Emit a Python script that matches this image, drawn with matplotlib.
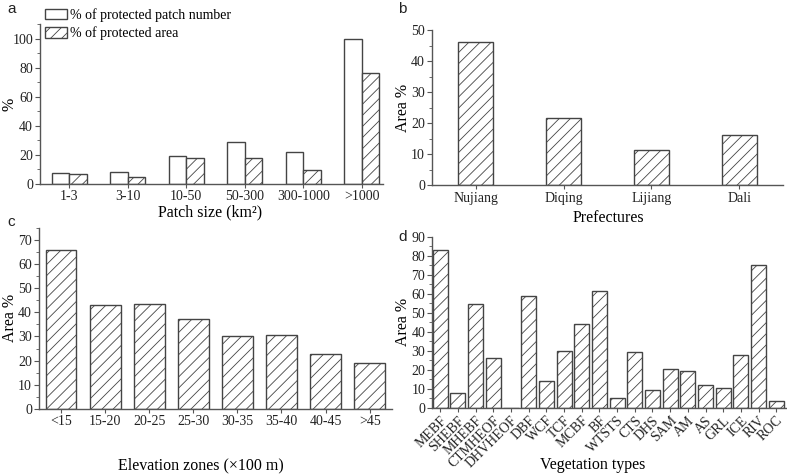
import matplotlib
matplotlib.use("Agg")
import matplotlib.pyplot as plt
import numpy as np
from matplotlib.patches import Patch
from matplotlib.ticker import MultipleLocator

# ---------------- data ----------------
patch_sizes = ["1-3", "3-10", "10-50", "50-300", "300-1000", ">1000"]
pct_patch_number = [7.8, 8.5, 19.5, 28.8, 22.0, 100.0]
pct_area = [6.7, 4.6, 17.7, 17.7, 9.9, 76.0]

prefectures = ["Nujiang", "Diqing", "Lijiang", "Dali"]
pref_area = [46.2, 21.8, 11.3, 16.1]

elev_zones = ["<15", "15-20", "20-25", "25-30", "30-35", "35-40", "40-45", ">45"]
elev_area = [65.7, 43.0, 43.4, 37.2, 30.3, 30.7, 22.9, 19.1]

veg_types = ["MEBF", "SHEBF", "MHEBF", "CTMHEOF", "DHVHEOF", "DBF", "WCF", "TCF",
             "MCBF", "BF", "WTSTS", "CTS", "DHS", "SAM", "AM", "AS", "GRL", "ICE",
             "RIV", "ROC"]
veg_area = [82.8, 7.5, 54.6, 26.0, 0.0, 58.6, 14.0, 29.6, 43.9, 61.2, 4.9, 29.1,
            9.1, 20.2, 19.1, 11.9, 10.2, 27.5, 74.9, 3.3]

# ---------------- style ----------------
W, H = 787, 476
plt.rcParams["font.family"] = ["Liberation Serif", "DejaVu Serif"]
plt.rcParams["hatch.linewidth"] = 0.6
plt.rcParams["hatch.color"] = "#222222"
EDGE = "#444444"
SPINE = "#555555"
TICKFS = 10
LABFS = 11.5

fig = plt.figure(figsize=(W / 100, H / 100), dpi=100)


def add_ax(left, top, right, bottom):
    return fig.add_axes([left / W, 1 - bottom / H, (right - left) / W, (bottom - top) / H])


def style(ax, major, minor):
    for s in ["top", "right"]:
        ax.spines[s].set_visible(False)
    for s in ["left", "bottom"]:
        ax.spines[s].set_color(SPINE)
        ax.spines[s].set_linewidth(1.0)
    ax.yaxis.set_major_locator(MultipleLocator(major))
    ax.yaxis.set_minor_locator(MultipleLocator(minor))
    ax.tick_params(axis="y", which="major", direction="out", length=3.5, width=0.8,
                   colors=SPINE, labelcolor="#222222", labelsize=TICKFS, pad=1.5)
    ax.tick_params(axis="y", which="minor", direction="out", length=2, width=0.6, colors=SPINE)
    ax.tick_params(axis="x", which="major", direction="out", length=3, width=0.8,
                   colors=SPINE, labelcolor="#222222", labelsize=TICKFS, pad=1.5)
    ax.tick_params(axis="x", which="minor", length=0)


def set_labels(ax, box, xlabel, xlab_xy, ylabel, ylab_x):
    """box = (left, top, right, bottom) in figure px; label positions in figure px."""
    left, top, right, bottom = box
    ax.set_xlabel(xlabel, fontsize=LABFS)
    ax.set_ylabel(ylabel, fontsize=LABFS)
    xl_x, xl_y = xlab_xy
    ax.xaxis.set_label_coords((xl_x - left) / (right - left), (bottom - xl_y) / (bottom - top))
    ax.xaxis.label.set_va("center")
    ax.yaxis.set_label_coords((ylab_x - left) / (right - left), 0.5)
    ax.yaxis.label.set_va("center")


def panel_label(x, y, s):
    fig.text(x / W, 1 - y / H, s, family="Liberation Sans", fontsize=11,
             ha="left", va="center", color="#222222")


# ---------------- panel a ----------------
boxa = (40, 24, 383, 184)
axa = add_ax(*boxa)
xa = np.arange(len(patch_sizes))
bw = 0.3
axa.bar(xa - bw / 2, pct_patch_number, bw, facecolor="white", edgecolor=EDGE, linewidth=1.0)
axa.bar(xa + bw / 2, pct_area, bw, facecolor="white", edgecolor=EDGE, linewidth=1.0, hatch="///")
axa.set_xlim(-0.5, 5.36)
axa.set_ylim(0, 110)
axa.set_xticks(xa)
axa.set_xticklabels(patch_sizes)
style(axa, 20, 10)
axa.set_yticks([0, 20, 40, 60, 80, 100])
set_labels(axa, boxa, "Patch size (km²)", (210.5, 212), "%", 10)
handles = [Patch(facecolor="white", edgecolor=EDGE, linewidth=1.0),
           Patch(facecolor="white", edgecolor=EDGE, linewidth=1.0, hatch="///")]
fig.legend(handles, ["% of protected patch number", "% of protected area"],
           loc="upper left", bbox_to_anchor=(45 / W, 1 - 8 / H), frameon=False,
           fontsize=10, handlelength=1.55, handleheight=0.75, handletextpad=0.25,
           borderpad=0, borderaxespad=0, labelspacing=0.35)
panel_label(7, 9, "a")

# ---------------- panel b ----------------
boxb = (432, 30, 783, 185.3)
axb = add_ax(*boxb)
xb = np.arange(len(prefectures))
axb.bar(xb, pref_area, 0.4, facecolor="white", edgecolor=EDGE, linewidth=1.0, hatch="///")
axb.set_xlim(-0.5, 3.5)
axb.set_ylim(0, 50)
axb.set_xticks(xb)
axb.set_xticklabels(prefectures)
style(axb, 10, 5)
set_labels(axb, boxb, "Prefectures", (608, 218), "Area %", 403)
panel_label(398, 9, "b")

# ---------------- panel c ----------------
boxc = (39, 227.7, 391.7, 409)
axc = add_ax(*boxc)
xc = np.arange(len(elev_zones))
axc.bar(xc, elev_area, 0.7, facecolor="white", edgecolor=EDGE, linewidth=1.0, hatch="///")
axc.set_xlim(-0.5, 7.5)
axc.set_ylim(0, 75)
axc.set_xticks(xc)
axc.set_xticklabels(elev_zones)
style(axc, 10, 5)
axc.set_yticks(np.arange(0, 71, 10))
set_labels(axc, boxc, "Elevation zones (×100 m)", (201, 465), "Area %", 10)
panel_label(7, 222, "c")

# ---------------- panel d ----------------
boxd = (432.3, 236.7, 786, 407.7)
axd = add_ax(*boxd)
xd = np.arange(len(veg_types))
axd.bar(xd, veg_area, 0.85, facecolor="white", edgecolor=EDGE, linewidth=1.0, hatch="///")
axd.set_xlim(-0.45, 19.55)
axd.set_ylim(0, 90)
axd.set_xticks(xd)
axd.set_xticklabels(veg_types, rotation=45, ha="right", rotation_mode="anchor",
                    fontsize=10.5)
style(axd, 10, 5)
set_labels(axd, boxd, "Vegetation types", (593, 465), "Area %", 403)
panel_label(398, 237, "d")

fig.savefig("out.png", dpi=100)
